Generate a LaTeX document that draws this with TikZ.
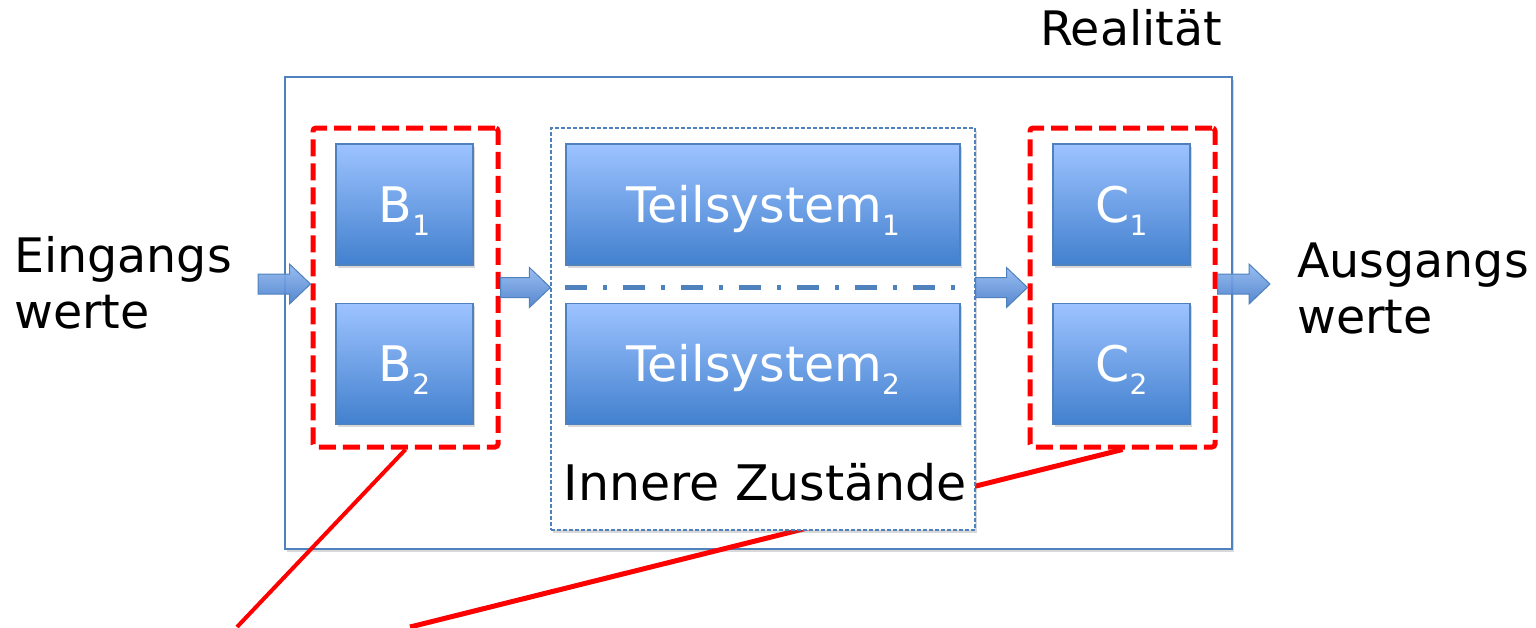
\documentclass[tikz,border=0pt]{standalone}
\usepackage{fontspec}
\setmainfont{DejaVu Sans}
\usetikzlibrary{shadows,calc}
\definecolor{boxtop}{RGB}{157,195,255}
\definecolor{boxbot}{RGB}{66,128,206}
\definecolor{boxline}{RGB}{79,129,189}
\definecolor{arrtop}{RGB}{145,185,240}
\definecolor{arrbot}{RGB}{72,125,203}
\definecolor{pptred}{RGB}{255,0,0}
\newcommand\idx[1]{\raisebox{-13pt}[0pt][0pt]{\fontsize{28}{28}\selectfont #1}}
\newcommand\blockarrow[2]{%
  \path[arrowstyle] let \p1=(#1), \p2=(#2) in
  (\x1,{\y1+10pt}) -- ({\x2-21pt},{\y1+10pt}) -- ({\x2-21pt},{\y1+20pt}) -- (\x2,\y1)
  -- ({\x2-21pt},{\y1-20pt}) -- ({\x2-21pt},{\y1-10pt}) -- (\x1,{\y1-10pt}) -- cycle;}
\begin{document}
\begin{tikzpicture}[x=1pt,y=-1pt,
  softshadow/.style={drop shadow={shadow xshift=1.5pt,shadow yshift=-2.5pt,opacity=0.25,fill=black!60}},
  bluebox/.style={draw=boxline,line width=1.5pt,top color=boxtop,bottom color=boxbot,
    text=white,font=\fontsize{49}{49}\selectfont,text height=35pt,text depth=0pt,
    inner sep=0pt,minimum height=121pt,softshadow},
  redgroup/.style={draw=pptred,line width=5pt,dash pattern=on 17pt off 7pt,rounded corners=3pt,
    minimum width=185pt,minimum height=319pt,inner sep=0pt},
  outerbox/.style={draw=boxline,line width=1.5pt,fill=white,minimum width=947pt,minimum height=472pt,inner sep=0pt,softshadow},
  teilbox/.style={draw=boxline,line width=1.2pt,dash pattern=on 4pt off 2pt,fill=white,
    minimum width=424pt,minimum height=402pt,inner sep=0pt,softshadow},
  dashdotline/.style={draw=boxline,line width=5pt,dash pattern=on 22pt off 16pt on 4pt off 16pt},
  redline/.style={draw=pptred,line width=4.5pt},
  arrowstyle/.style={draw=boxline,line width=1pt,top color=arrtop,bottom color=arrbot,fill opacity=0.92},
  lbl/.style={font=\fontsize{47.5}{56}\selectfont,inner sep=0pt}]
\useasboundingbox (0,0) rectangle (1536,627);
% outer box
\node[outerbox] (outer) at (758.5,313) {};
% C group
\node[redgroup] (Cgrp) at (1122.5,287.5) {};
\node[bluebox,minimum width=137pt] (C1) at (1121.5,204.5) {C\idx{1}};
\node[bluebox,minimum width=137pt] (C2) at (1121.5,364) {C\idx{2}};
% red line from C group (behind the Teilsystem box)
\coordinate (e2) at (410,627);
\draw[redline,line width=5pt] (Cgrp.south) -- (e2);
% Teilsystem box
\node[teilbox] (Teil) at (763,329) {};
\node[bluebox,minimum width=394pt] (T1) at (763,204.5) {Teilsystem\idx{1}};
\node[bluebox,minimum width=394pt] (T2) at (763,364) {Teilsystem\idx{2}};
\coordinate (dl) at (0,287);
\draw[dashdotline] (T1.west |- dl) -- (T1.east |- dl);
\node[lbl,font=\fontsize{49}{49}\selectfont,anchor=base] (inner) at (765.5,500) {Innere Zustände};
% B group
\node[redgroup] (Bgrp) at (405.5,287.5) {};
\node[bluebox,minimum width=137pt] (B1) at (404.5,204.5) {B\idx{1}};
\node[bluebox,minimum width=137pt] (B2) at (404.5,364) {B\idx{2}};
\coordinate (e1) at (237,627);
\draw[redline,line width=4pt] (Bgrp.south) -- (e1);
% block arrows
\coordinate (in0) at (258,284);
\coordinate (out1) at (1270,284);
\blockarrow{in0}{Bgrp.west}
\blockarrow{Bgrp.east}{Teil.west}
\blockarrow{Teil.east |- Bgrp.east}{Cgrp.west}
\blockarrow{$(Cgrp.east)+(0,-3.5)$}{out1}
% texts
\node[lbl,anchor=base] (real) at (1131,45) {Realität};
\node[lbl,anchor=base west,align=left] (ein) at (14,328) {Eingangs\\werte};
\node[lbl,anchor=base west,align=left] (aus) at (1297,333) {Ausgangs\\werte};
\end{tikzpicture}
\end{document}
